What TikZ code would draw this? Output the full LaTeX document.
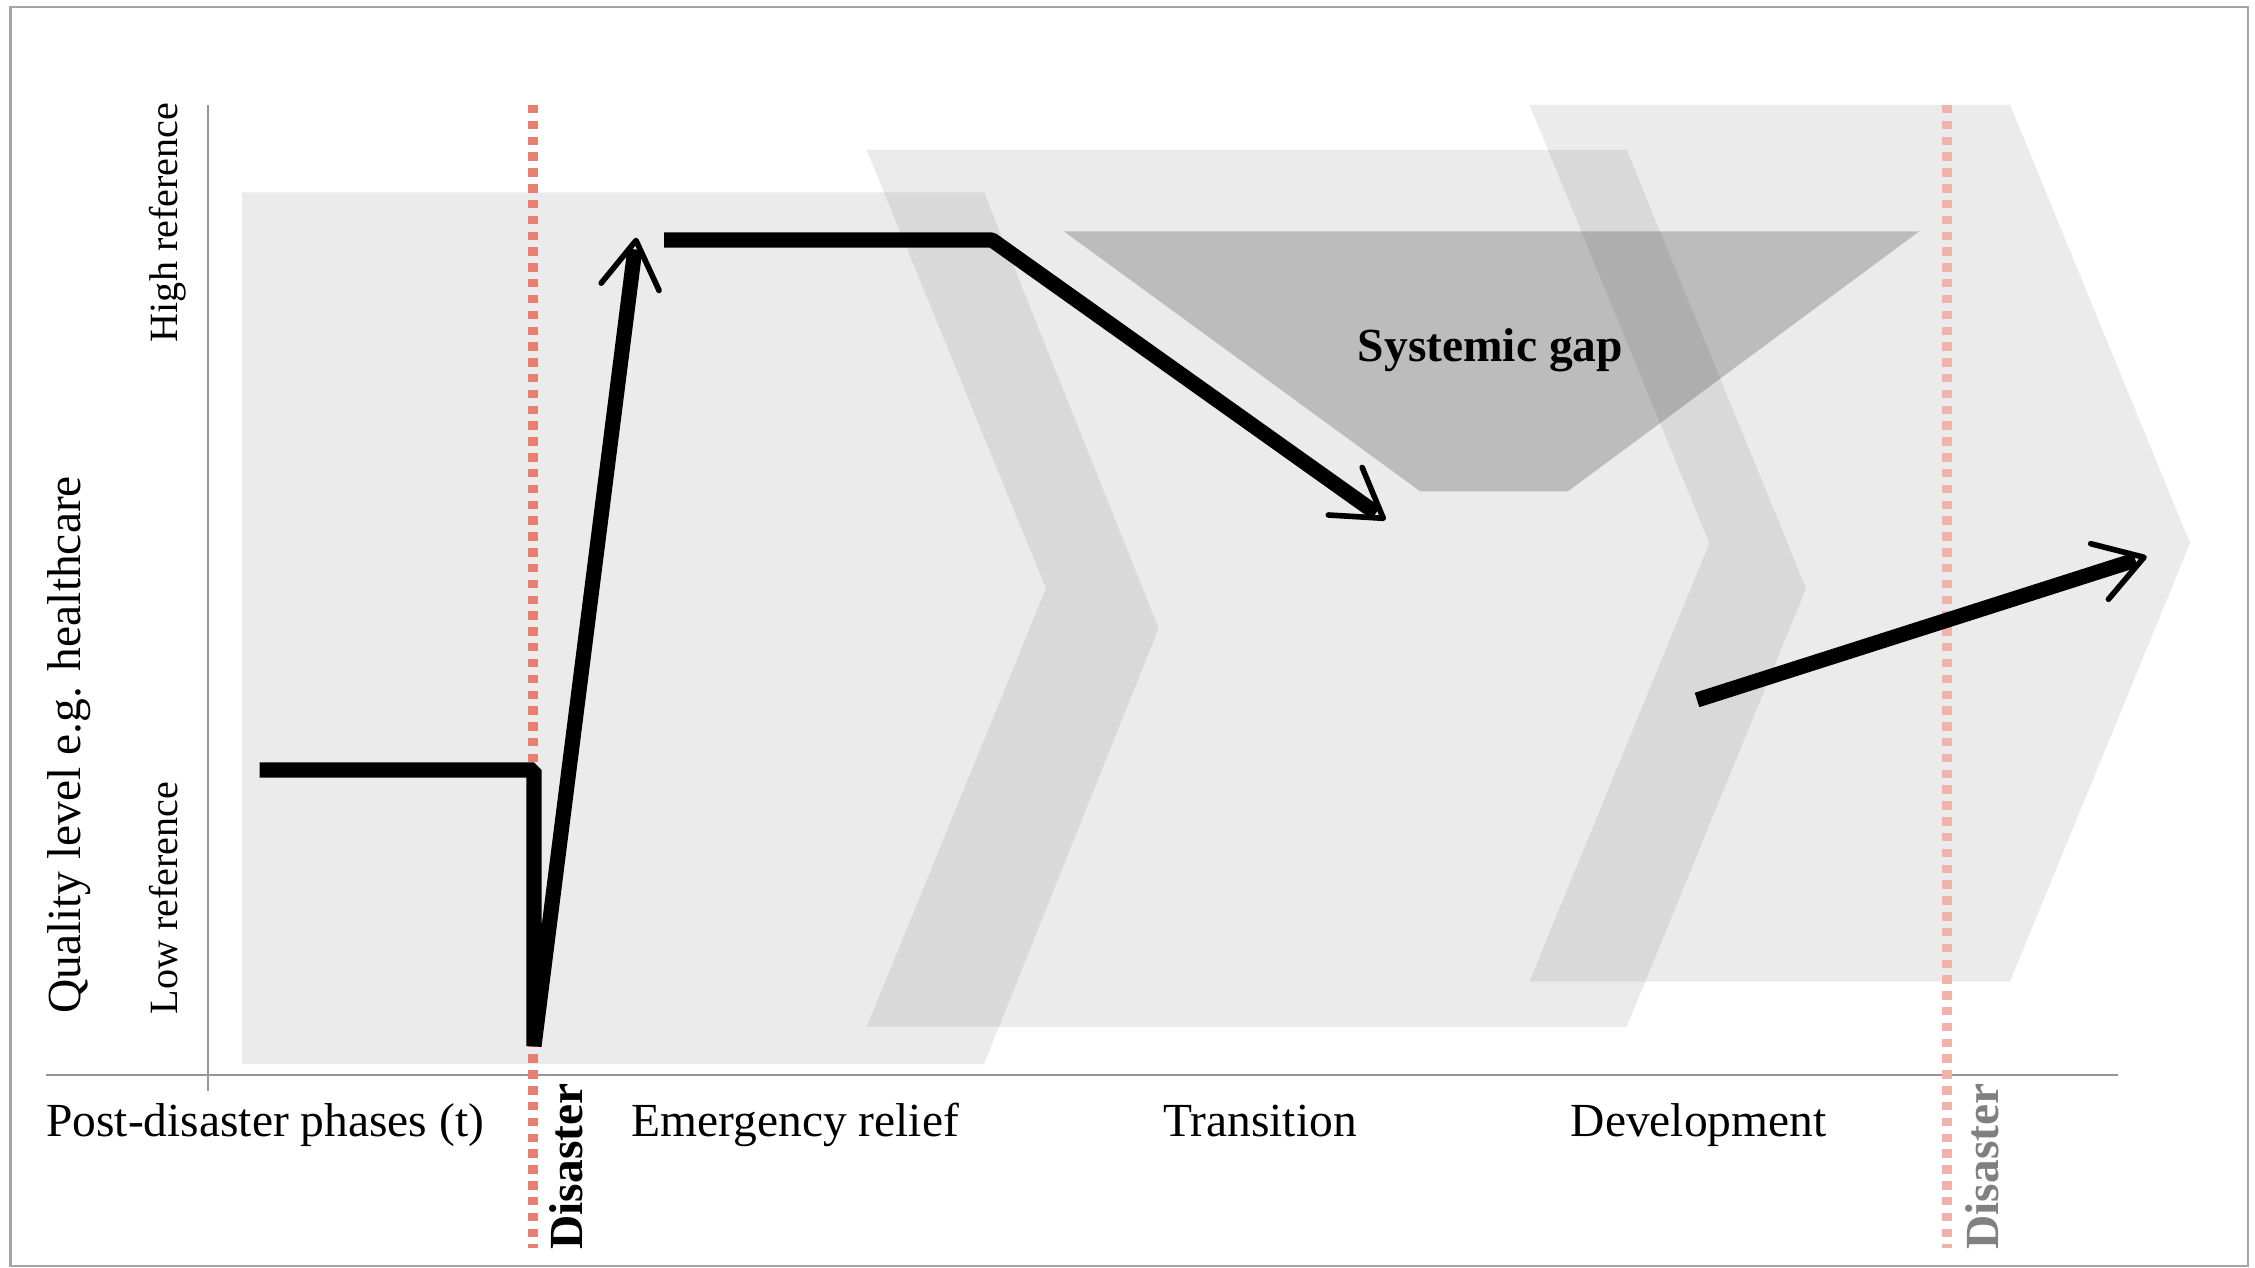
\documentclass[tikz,border=0pt]{standalone}
\usepackage{fontspec}
\setmainfont{Liberation Serif}
\usetikzlibrary{calc}
\definecolor{bordergray}{RGB}{165,165,165}
\definecolor{axisgray}{RGB}{150,150,150}
\definecolor{redA}{RGB}{232,128,114}
\definecolor{redB}{RGB}{241,178,170}
\definecolor{labgray}{RGB}{128,128,128}
\begin{document}
\begin{tikzpicture}[x=0.01cm,y=-0.01cm,
  phase/.style={fill=black,fill opacity=0.08,draw=none},
  gapshape/.style={fill=black,fill opacity=0.2,draw=none},
  axisline/.style={draw=axisgray,line width=0.6pt},
  disasterline/.style={line width=2.85pt,dash pattern=on 2.4pt off 2.1pt},
  shaft/.style={line width=4.3pt,line join=bevel,line cap=butt},
  barb/.style={line width=1.6pt,line cap=round,line join=round},
  lab/.style={inner sep=0pt,font=\fontsize{13.5}{16}\selectfont},
  labbold/.style={inner sep=0pt,font=\fontsize{13.5}{16}\selectfont\bfseries},
  reflab/.style={inner sep=0pt,font=\fontsize{11.4}{14}\selectfont,rotate=90,anchor=base},
]
\useasboundingbox (0,0) rectangle (2255,1268);
\draw[bordergray,line width=0.7pt] (10.5,7) rectangle (2248,1266);

% phase shapes
\fill[phase] (242,192.3) -- (984,192.3) -- (1158.6,628.2) -- (984,1064) -- (242,1064) -- cycle;
\fill[phase] (866.7,150) -- (1626.7,150) -- (1806,588.5) -- (1626.7,1027) -- (866.7,1027) -- (1046,588.5) -- cycle;
\fill[phase] (1529.4,104.8) -- (2010,104.8) -- (2190,543.2) -- (2010,981.6) -- (1529.4,981.6) -- (1709.4,543.2) -- cycle;
\fill[gapshape] (1064,231.5) -- (1919,231.5) -- (1567.7,491.5) -- (1420.4,491.5) -- cycle;

% axes
\coordinate (yaxtop) at (208,105);
\coordinate (yaxbot) at (208,1091);
\coordinate (xaxl) at (45.6,1074.7);
\coordinate (xaxr) at (2118,1074.7);
\draw[axisline] (yaxtop) -- (yaxbot);
\draw[axisline] (xaxl) -- (xaxr);

% disaster lines
\coordinate (d1t) at (533,105);
\coordinate (d1b) at (533,1248);
\coordinate (d2t) at (1947,105);
\coordinate (d2b) at (1947,1248);
\draw[disasterline,redA] (d1t) -- (d1b);
\draw[disasterline,redB] (d2t) -- (d2b);

% curve 1
\coordinate (p0) at (259.6,770);
\coordinate (p1) at (534,770);
\coordinate (p2) at (534,1046);
\coordinate (t1) at (636,240.5);
\draw[shaft] (p0) -- (p1) -- (p2) -- ($(t1)!0.09cm!(p2)$);
\draw[barb] ($(t1)!0.55cm!32:(p2)$) -- (t1) -- ($(t1)!0.55cm!-32:(p2)$);

% curve 2
\coordinate (q0) at (664,240);
\coordinate (q1) at (992,240);
\coordinate (t2) at (1383.3,518.3);
\draw[shaft] (q0) -- (q1) -- ($(t2)!0.09cm!(q1)$);
\draw[barb] ($(t2)!0.55cm!32:(q1)$) -- (t2) -- ($(t2)!0.55cm!-32:(q1)$);

% curve 3
\coordinate (r0) at (1697,700);
\coordinate (t3) at (2144,557.3);
\draw[shaft] (r0) -- ($(t3)!0.09cm!(r0)$);
\draw[barb] ($(t3)!0.55cm!32:(r0)$) -- (t3) -- ($(t3)!0.55cm!-32:(r0)$);

% labels
\node[lab,rotate=90,anchor=base] (qlabel) at (80,745) {Quality level e.g. healthcare};
\node[reflab] (hiref) at (177.5,222.5) {High reference};
\node[reflab] (loref) at (177,898) {Low reference};
\node[labbold,rotate=90,anchor=base] (dis1) at (582,1166.5) {Disaster};
\node[labbold,rotate=90,anchor=base,text=labgray] (dis2) at (1998,1166.5) {Disaster};
\node[lab,anchor=base west] (post) at (45.6,1136.5) {Post-disaster phases (t)};
\node[lab,anchor=base west] (emerg) at (631,1136.5) {Emergency relief};
\node[lab,anchor=base west] (trans) at (1162.6,1136.5) {Transition};
\node[lab,anchor=base west] (devel) at (1570,1136.5) {Development};
\node[labbold,anchor=base] (gap) at (1490.4,361.8) {Systemic gap};
\end{tikzpicture}
\end{document}
